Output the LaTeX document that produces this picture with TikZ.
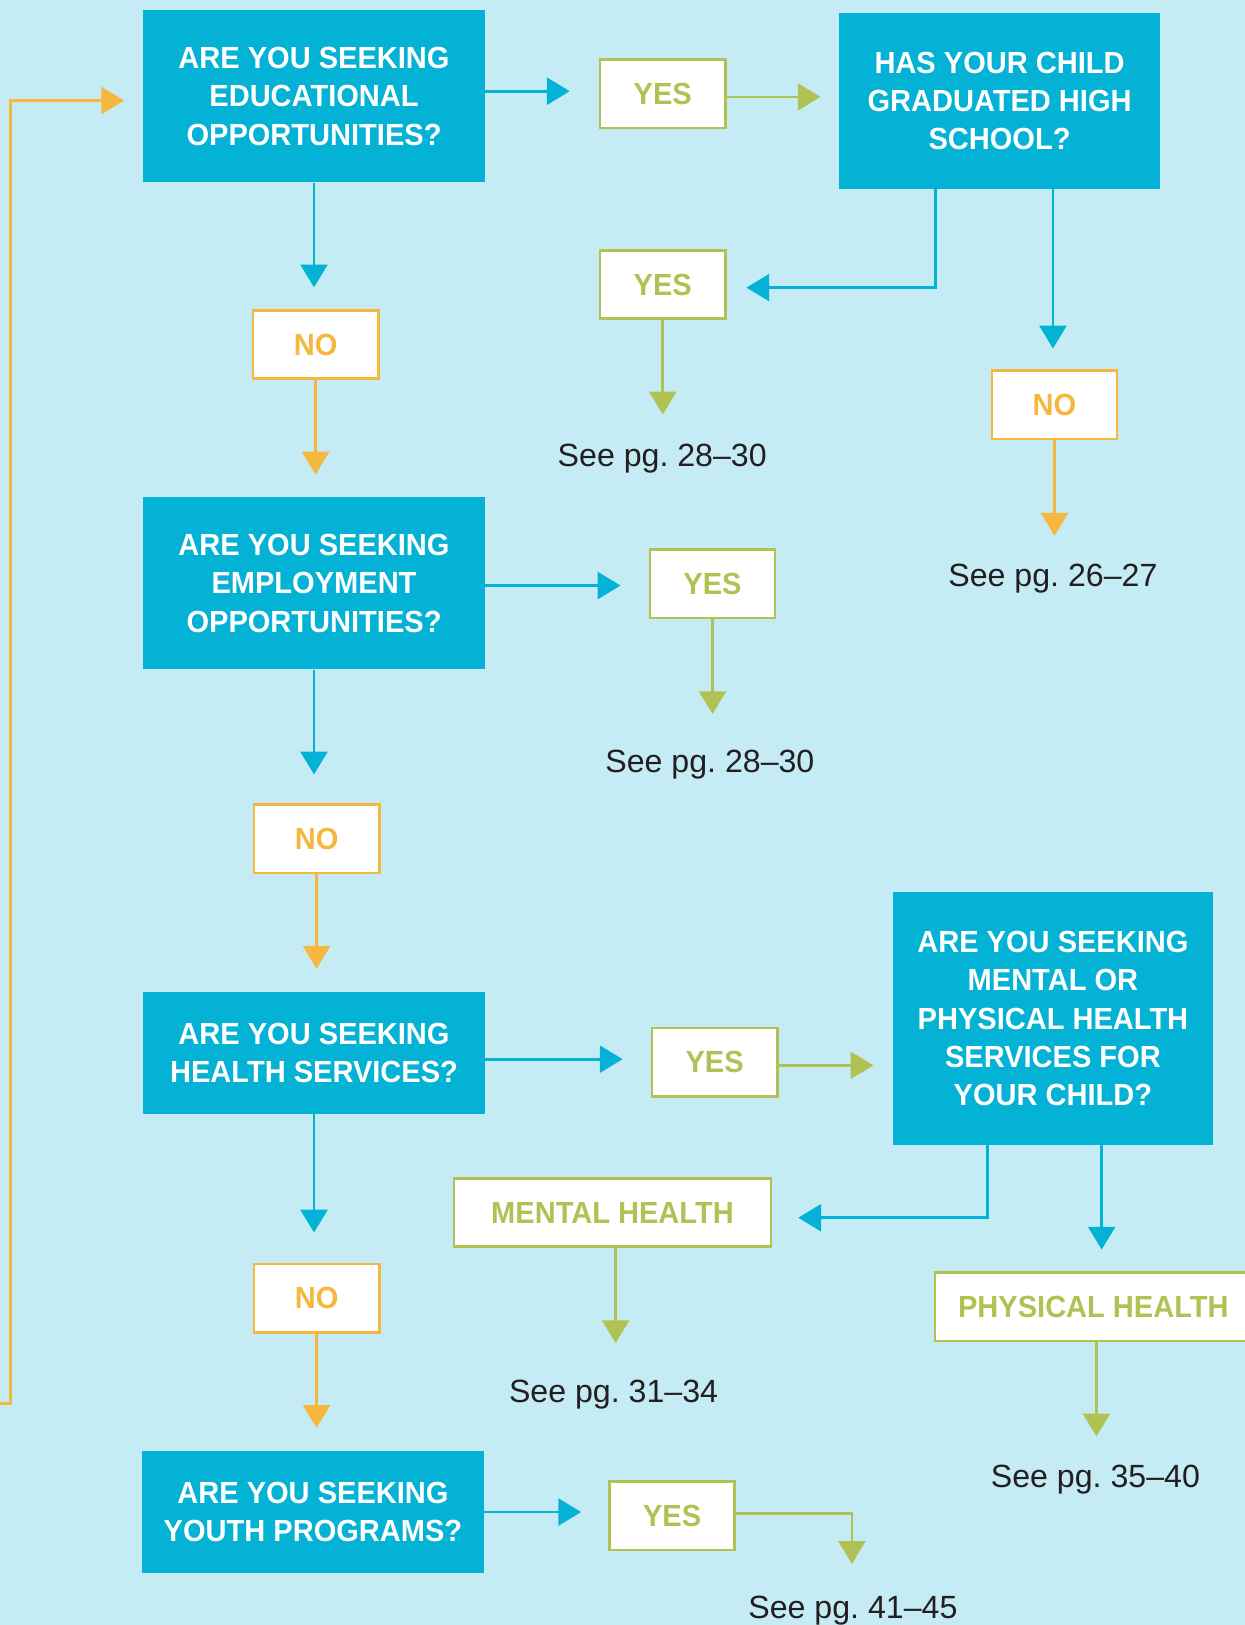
\documentclass[tikz,border=0pt]{standalone}
\usepackage{fontspec}
\setmainfont{Liberation Sans}
\newfontfamily\condfont[FakeStretch=0.95]{Liberation Sans}
\usetikzlibrary{arrows.meta}
\definecolor{bg}{HTML}{C5ECF4}
\definecolor{qblue}{HTML}{03B2D5}
\definecolor{agreen}{HTML}{B0C254}
\definecolor{aorange}{HTML}{F5B73E}
\definecolor{ink}{HTML}{231F20}
\frenchspacing
\begin{document}
\begin{tikzpicture}[x=1pt,y=-1pt,
  qbox/.style={fill=qblue, text=white, font=\condfont\bfseries\fontsize{29.5}{37}\selectfont, align=center, inner sep=0pt, minimum width=330pt},
  ansbox/.style={fill=white, line width=2.5pt, font=\condfont\bfseries\fontsize{29.5}{37}\selectfont, inner sep=0pt, minimum height=66pt, minimum width=121pt},
  ybox/.style={ansbox, draw=agreen, text=agreen},
  nbox/.style={ansbox, draw=aorange, text=aorange},
  seetxt/.style={anchor=base, text=ink, inner sep=0pt, font=\fontsize{31}{37}\selectfont},
  tipstyle/.style={-{Triangle[length=22pt,width=26pt]}, line width=2.6pt},
  barrow/.style={tipstyle, draw=qblue, color=qblue},
  garrow/.style={tipstyle, draw=agreen, color=agreen},
  oarrow/.style={tipstyle, draw=aorange, color=aorange}]
\fill[bg] (0,0) rectangle (1201,1568);
\useasboundingbox (0,0) rectangle (1201,1568);

% question boxes
\node[qbox, minimum height=166pt] (edu) at (303,93) {ARE YOU SEEKING\\EDUCATIONAL\\OPPORTUNITIES?};
\node[qbox, minimum width=309pt, minimum height=169pt] (hs) at (964.5,97.5) {HAS YOUR CHILD\\GRADUATED HIGH\\SCHOOL?};
\node[qbox, minimum height=166pt] (emp) at (303,563) {ARE YOU SEEKING\\EMPLOYMENT\\OPPORTUNITIES?};
\node[qbox, minimum height=118pt] (health) at (303,1016) {ARE YOU SEEKING\\HEALTH SERVICES?};
\node[qbox, minimum width=308pt, minimum height=244pt] (mp) at (1016,983) {ARE YOU SEEKING\\MENTAL OR\\PHYSICAL HEALTH\\SERVICES FOR\\YOUR CHILD?};
\node[qbox, minimum height=118pt] (youth) at (302,1459) {ARE YOU SEEKING\\YOUTH PROGRAMS?};

% answer boxes
\node[ybox] (yes1) at (639.5,90.5) {YES};
\node[ybox] (yes2) at (639.5,274.5) {YES};
\node[nbox] (no1) at (304.5,332.5) {NO};
\node[nbox] (no2) at (1017.5,390.5) {NO};
\node[ybox] (yes3) at (687.5,563.5) {YES};
\node[nbox] (no3) at (305.5,809.5) {NO};
\node[ybox] (yes4) at (689.5,1025) {YES};
\node[ybox, minimum width=306pt] (mental) at (591,1170) {MENTAL HEALTH};
\node[ybox, minimum width=306pt] (phys) at (1055,1261) {PHYSICAL HEALTH};
\node[nbox] (no4) at (305.5,1252.5) {NO};
\node[ybox] (yes5) at (648.5,1462.5) {YES};

% page references
\node[seetxt] (t1) at (639,450) {See pg. 28–30};
\node[seetxt] (t2) at (1016,566) {See pg. 26–27};
\node[seetxt] (t3) at (685,745) {See pg. 28–30};
\node[seetxt] (t4) at (592,1353) {See pg. 31–34};
\node[seetxt] (t5) at (1057,1435) {See pg. 35–40};
\node[seetxt] (t6) at (823,1562) {See pg. 41–45};

% free ends
\coordinate (e1) at (639.5,400);
\coordinate (e2) at (1017.5,517);
\coordinate (e3) at (687.5,689);
\coordinate (e4) at (594,1296);
\coordinate (e5) at (1058,1386);
\coordinate (e6) at (822,1509);
\coordinate (loopstart) at (0,1354);
\coordinate (loopcorner) at (10,1354);

% connectors
\draw[barrow, shorten >=28pt] ([yshift=5pt]edu.east) -- ([yshift=5pt]edu.east -| yes1.west);
\draw[garrow, shorten >=18pt] ([yshift=-3pt]yes1.east) -- ([yshift=-3pt]yes1.east -| hs.west);
\draw[barrow, shorten >=19pt] ([xshift=-61.5pt]hs.south) |- ([yshift=-3pt]yes2.east);
\draw[barrow, shorten >=20pt] ([xshift=51.5pt]hs.south) -- ([xshift=51.5pt]hs.south |- no2.north);
\draw[garrow] (yes2.south) -- (e1);
\draw[oarrow] (no2.south) -- (e2);
\draw[barrow, shorten >=21pt] (edu.south) -- (edu.south |- no1.north);
\draw[oarrow, shorten >=22pt] (no1.south) -- (no1.south |- emp.north);
\draw[barrow, shorten >=27pt] ([yshift=-2pt]emp.east) -- ([yshift=-2pt]emp.east -| yes3.west);
\draw[garrow] (yes3.south) -- (e3);
\draw[barrow, shorten >=28pt] (emp.south) -- (emp.south |- no3.north);
\draw[oarrow, shorten >=22pt] (no3.south) -- (no3.south |- health.north);
\draw[barrow, shorten >=27pt] ([yshift=-6pt]health.east) -- ([yshift=-6pt]health.east -| yes4.west);
\draw[garrow, shorten >=19pt] ([yshift=-3pt]yes4.east) -- ([yshift=-3pt]yes4.east -| mp.west);
\draw[barrow, shorten >=25pt] ([xshift=-63pt]mp.south) |- ([yshift=-5pt]mental.east);
\draw[barrow, shorten >=21pt] ([xshift=47pt]mp.south) -- ([xshift=47pt]mp.south |- phys.north);
\draw[garrow] ([xshift=3pt]mental.south) -- (e4);
\draw[garrow] ([xshift=3pt]phys.south) -- (e5);
\draw[barrow, shorten >=29pt] (health.south) -- (health.south |- no4.north);
\draw[oarrow, shorten >=22pt] (no4.south) -- (no4.south |- youth.north);
\draw[barrow, shorten >=26pt] (youth.east) -- (youth.east -| yes5.west);
\draw[garrow] ([yshift=2pt]yes5.east) -| (e6);
\draw[oarrow, shorten >=18pt] (loopstart) -- (loopcorner) |- ([yshift=-4pt]edu.west);
\end{tikzpicture}
\end{document}
